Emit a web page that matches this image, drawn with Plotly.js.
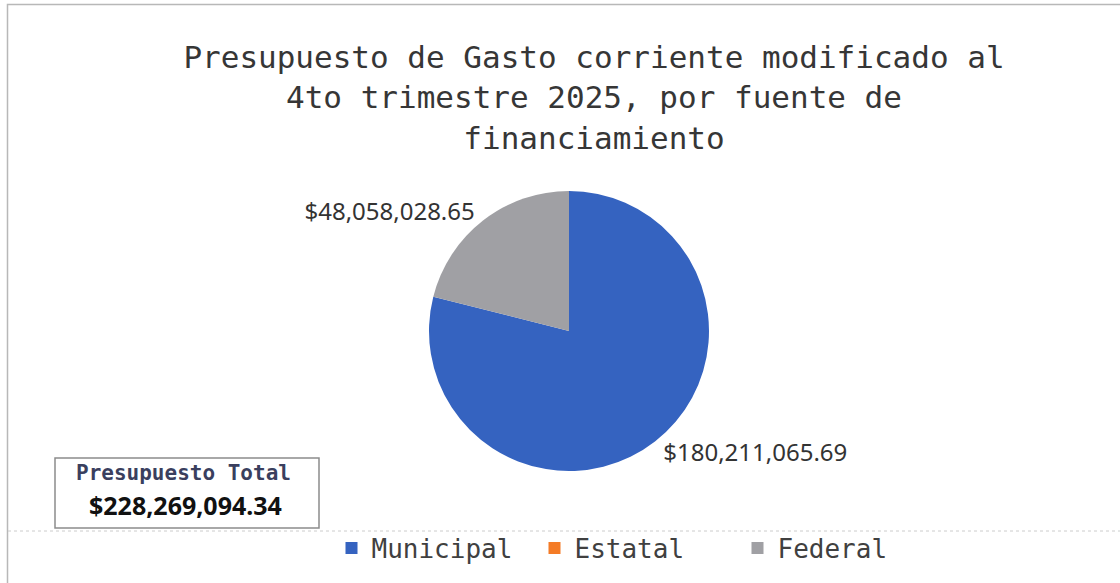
<!DOCTYPE html>
<html>
<head>
<meta charset="utf-8">
<script src="https://cdn.plot.ly/plotly-3.0.1.min.js"></script>
<style>html,body{margin:0;padding:0;background:#fff;}#chart{width:1120px;height:583px;}</style>
</head>
<body>
<div id="chart"></div>
<script>
const categories = ["Municipal", "Estatal", "Federal"];
const values = [180211065.69, 0, 48058028.65];
const colors = ["#3563C0", "#F47B26", "#A0A0A4"];
const titleText = "Presupuesto de Gasto corriente modificado al<br>4to trimestre 2025, por fuente de<br>financiamiento";
const totalLabel = "Presupuesto Total";

const total = values.reduce((a, b) => a + b, 0);
const fmt = v => "$" + v.toLocaleString("en-US", {minimumFractionDigits: 2, maximumFractionDigits: 2});

const W = 1120, H = 583;
const px = x => x / W, py = y => 1 - y / H;

const trace = {
  type: "pie",
  labels: categories,
  values: values,
  sort: false,
  direction: "clockwise",
  rotation: 0,
  marker: {colors: colors, line: {width: 0}},
  text: values.map(v => v > 0 ? fmt(v) : ""),
  textinfo: "text",
  textposition: "outside",
  outsidetextfont: {family: "Noto Sans, Liberation Sans, sans-serif", size: 24, color: "#333333"},
  hoverinfo: "label+value+percent",
  domain: {x: [px(429), px(709)], y: [py(471), py(191)]},
  showlegend: true
};

const layout = {
  width: W, height: H,
  margin: {l: 0, r: 0, t: 0, b: 0},
  paper_bgcolor: "#ffffff",
  plot_bgcolor: "#ffffff",
  title: {
    text: titleText,
    font: {family: "DejaVu Sans Mono, Liberation Mono, monospace", size: 31, color: "#363636"},
    x: px(594), xanchor: "center",
    y: py(68), yanchor: "top"
  },
  legend: {
    orientation: "h",
    x: px(636), xanchor: "center",
    y: py(548), yanchor: "middle",
    bgcolor: "rgba(0,0,0,0)",
    font: {family: "DejaVu Sans Mono, Liberation Mono, monospace", size: 26, color: "#404040"},
    itemwidth: 30,
    entrywidth: 158,
    entrywidthmode: "pixels",
    traceorder: "normal"
  },
  shapes: [
    {type: "rect", xref: "paper", yref: "paper", x0: px(7.5), x1: 1.01, y0: py(4.5), y1: -0.01,
     line: {color: "#b8b8b8", width: 1.5}, fillcolor: "rgba(0,0,0,0)"},
    {type: "line", xref: "paper", yref: "paper", x0: px(8), x1: 1, y0: py(531), y1: py(531),
     line: {color: "#cccccc", width: 1, dash: "dot"}},
    {type: "rect", xref: "paper", yref: "paper", x0: px(55), x1: px(319), y0: py(458), y1: py(528),
     line: {color: "#8c8c8c", width: 1.5}, fillcolor: "#ffffff"}
  ],
  annotations: [
    {xref: "paper", yref: "paper", x: px(183), y: py(473), xanchor: "center", yanchor: "middle",
     text: "<b>" + totalLabel + "</b>", showarrow: false, borderpad: 0,
     font: {family: "DejaVu Sans Mono, Liberation Mono, monospace", size: 21, color: "#3a3f5e"}},
    {xref: "paper", yref: "paper", x: px(185), y: py(505), xanchor: "center", yanchor: "middle",
     text: "<b>" + fmt(total) + "</b>", showarrow: false, borderpad: 0,
     font: {family: "Noto Sans, Liberation Sans, sans-serif", size: 25, color: "#111111"}}
  ]
};

Plotly.newPlot("chart", [trace], layout, {displayModeBar: false, staticPlot: true});
</script>
</body>
</html>
